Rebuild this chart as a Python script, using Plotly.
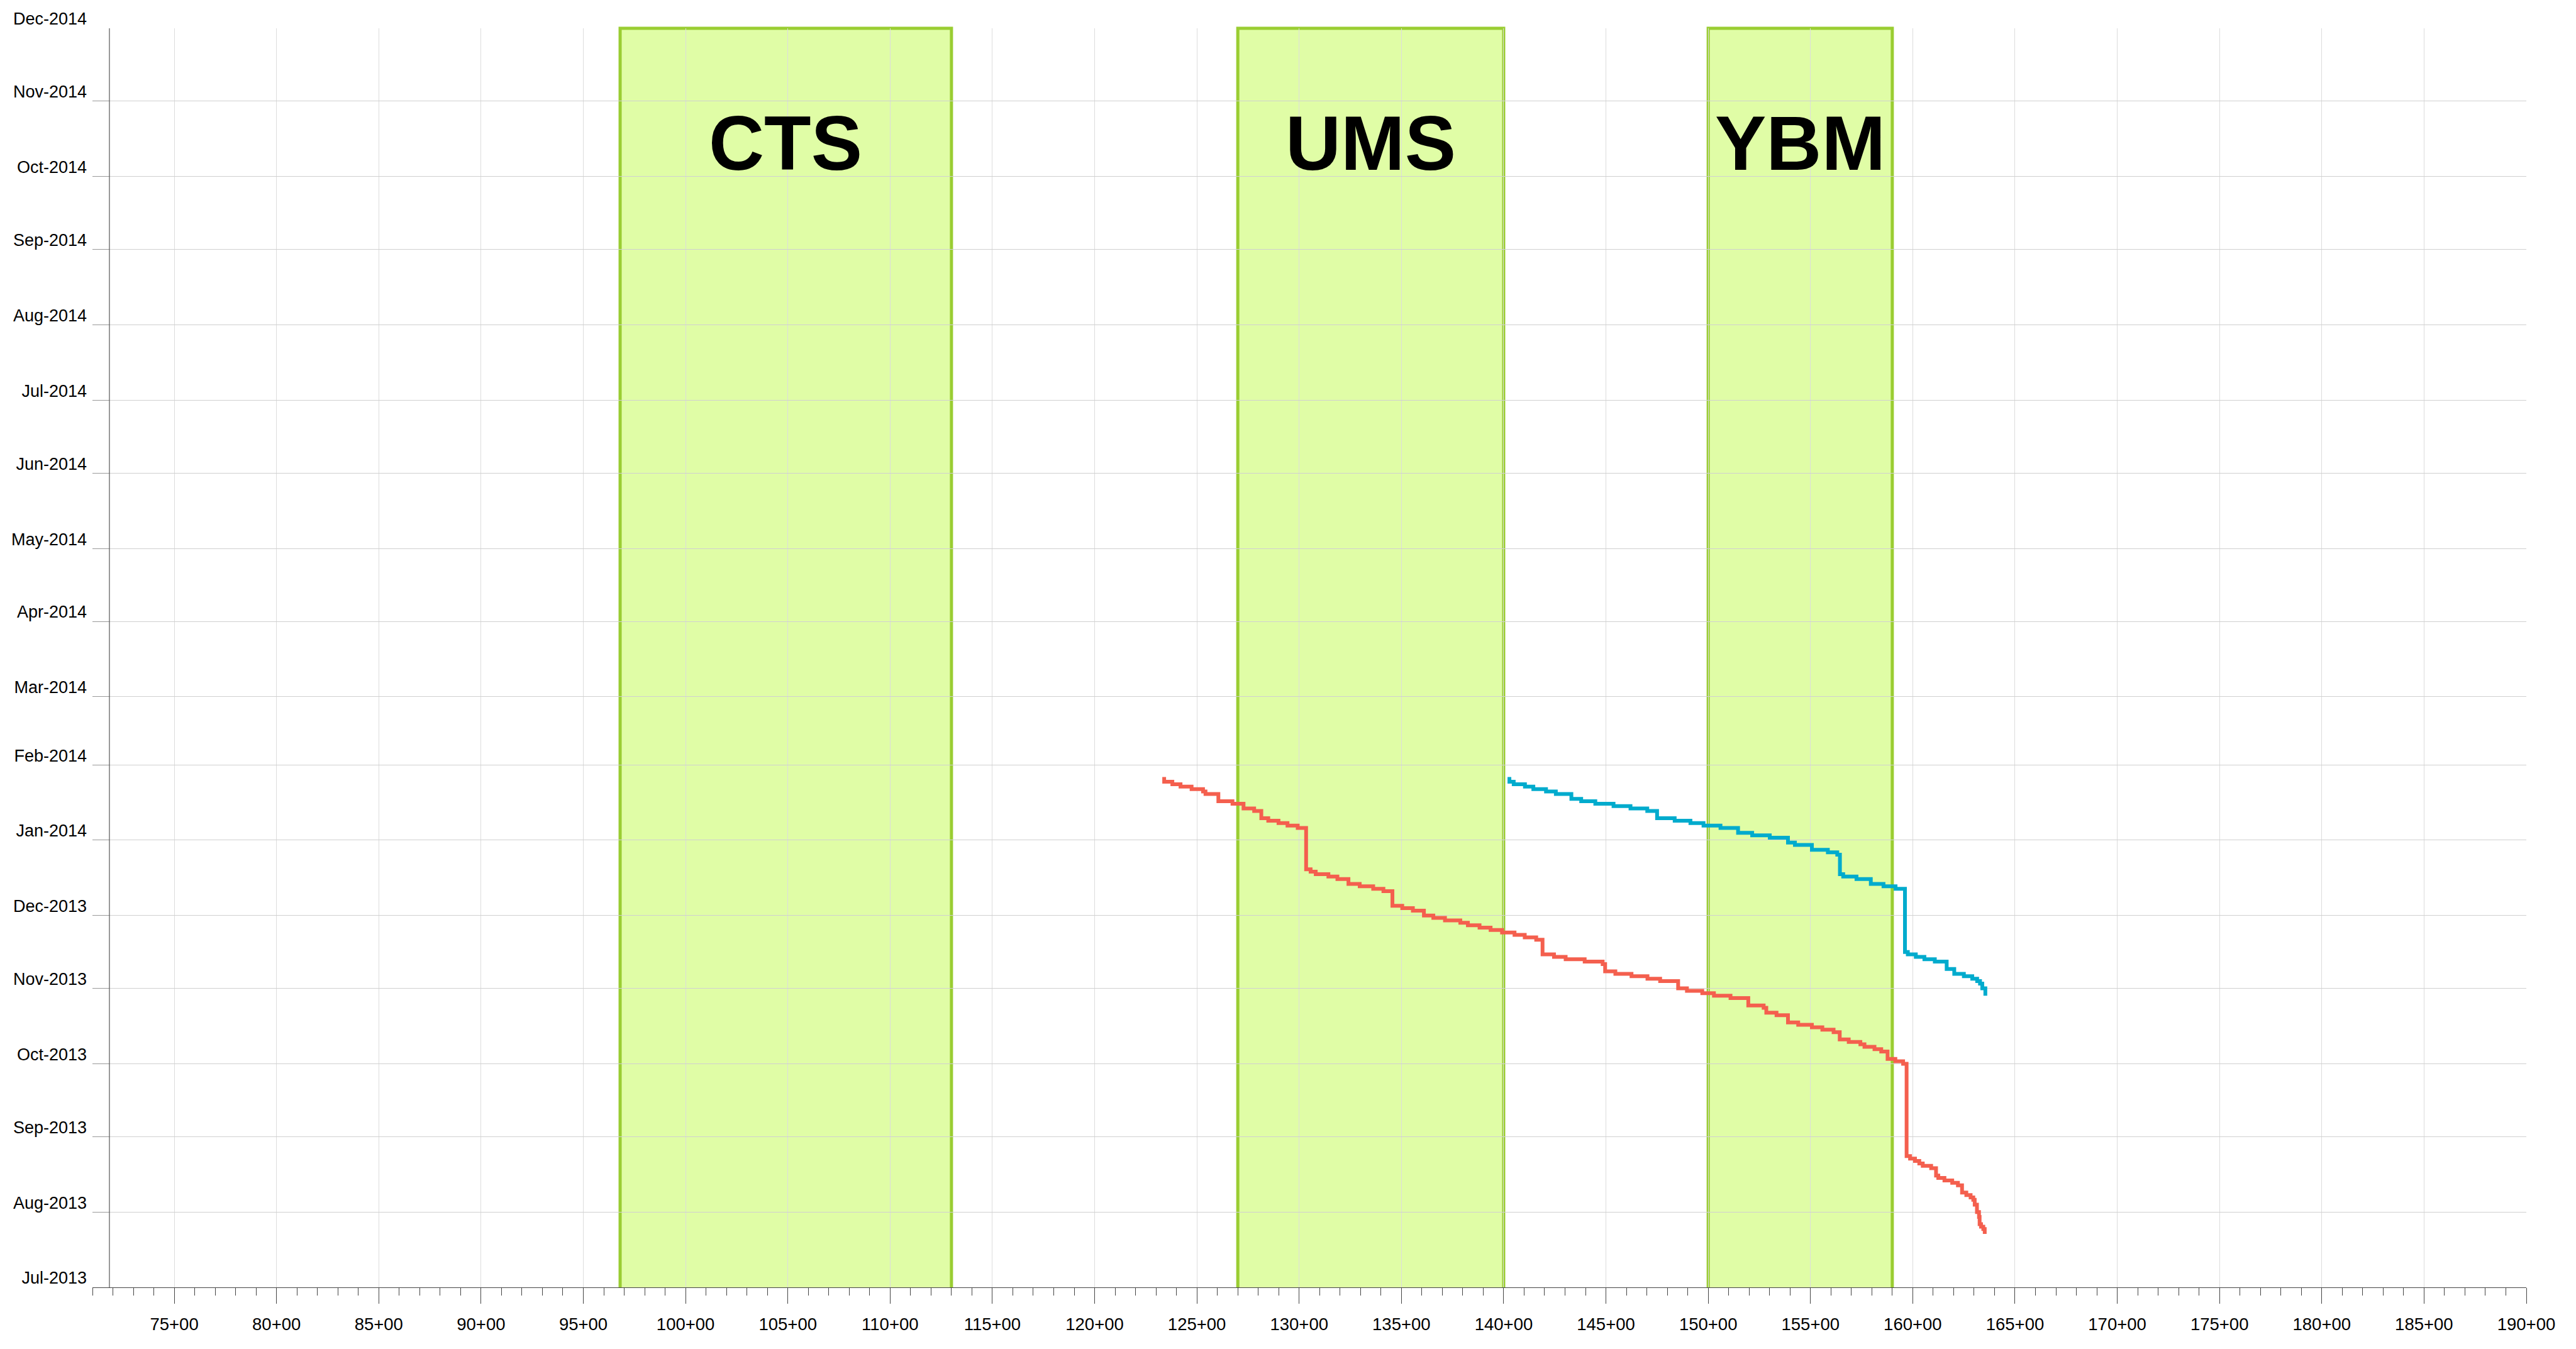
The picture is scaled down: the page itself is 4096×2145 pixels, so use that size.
import plotly.graph_objects as go

# ---- data ----
red_station = [123.40, 123.40, 123.80, 124.20, 124.74, 125.30, 125.42, 126.05, 126.74, 127.28,
               127.80, 128.15, 128.49, 128.99, 129.43, 129.93, 130.34, 130.56, 130.81, 131.43,
               131.87, 132.41, 132.96, 133.62, 134.12, 134.56, 135.04, 135.56, 136.10, 136.56,
               137.13, 137.88, 138.25, 138.82, 139.36, 139.92, 140.53, 141.03, 141.59, 141.90,
               142.46, 143.03, 143.96, 144.84, 144.96, 145.46, 146.25, 147.03, 147.65, 148.53,
               148.96, 149.71, 150.28, 151.09, 151.96, 152.71, 152.84, 153.34, 153.90, 154.40,
               155.07, 155.58, 156.13, 156.43, 156.87, 157.44, 157.64, 158.13, 158.46, 158.77,
               159.15, 159.53, 159.70, 159.87, 160.11, 160.32, 160.49, 160.90, 161.14, 161.25,
               161.55, 161.93, 162.21, 162.41, 162.62, 162.83, 162.96, 163.03, 163.14, 163.24,
               163.27, 163.34, 163.45, 163.52]
red_date = ["2014-01-27", "2014-01-25", "2014-01-24", "2014-01-23", "2014-01-22", "2014-01-21",
            "2014-01-20", "2014-01-17", "2014-01-16", "2014-01-14", "2014-01-13", "2014-01-10",
            "2014-01-09", "2014-01-08", "2014-01-07", "2014-01-06", "2013-12-20", "2013-12-19",
            "2013-12-18", "2013-12-17", "2013-12-16", "2013-12-14", "2013-12-13", "2013-12-12",
            "2013-12-11", "2013-12-05", "2013-12-04", "2013-12-03", "2013-12-01", "2013-11-30",
            "2013-11-29", "2013-11-28", "2013-11-27", "2013-11-26", "2013-11-25", "2013-11-24",
            "2013-11-23", "2013-11-22", "2013-11-21", "2013-11-15", "2013-11-14", "2013-11-13",
            "2013-11-12", "2013-11-11", "2013-11-08", "2013-11-07", "2013-11-06", "2013-11-05",
            "2013-11-04", "2013-11-01", "2013-10-31", "2013-10-30", "2013-10-29", "2013-10-28",
            "2013-10-25", "2013-10-24", "2013-10-22", "2013-10-21", "2013-10-18", "2013-10-17",
            "2013-10-16", "2013-10-15", "2013-10-14", "2013-10-11", "2013-10-10", "2013-10-09",
            "2013-10-08", "2013-10-07", "2013-10-06", "2013-10-03", "2013-10-02", "2013-10-01",
            "2013-08-24", "2013-08-23", "2013-08-22", "2013-08-21", "2013-08-20", "2013-08-19",
            "2013-08-16", "2013-08-15", "2013-08-14", "2013-08-13", "2013-08-12", "2013-08-09",
            "2013-08-08", "2013-08-07", "2013-08-06", "2013-08-04", "2013-08-01", "2013-07-30",
            "2013-07-27", "2013-07-26", "2013-07-25", "2013-07-23"]

blue_station = [140.28, 140.28, 140.49, 141.04, 141.45, 142.07, 142.55, 143.31, 143.79, 144.48,
                145.37, 146.20, 147.02, 147.50, 148.36, 149.13, 149.77, 150.60, 151.46, 152.15,
                153.01, 153.90, 154.24, 155.07, 155.85, 156.31, 156.44, 156.60, 157.25, 157.95,
                158.57, 159.16, 159.62, 159.76, 160.15, 160.57, 161.08, 161.66, 162.03, 162.50,
                162.91, 163.15, 163.29, 163.40, 163.55]
blue_date = ["2014-01-27", "2014-01-25", "2014-01-24", "2014-01-23", "2014-01-22", "2014-01-21",
             "2014-01-20", "2014-01-18", "2014-01-17", "2014-01-16", "2014-01-15", "2014-01-14",
             "2014-01-13", "2014-01-10", "2014-01-09", "2014-01-08", "2014-01-07", "2014-01-06",
             "2014-01-04", "2014-01-03", "2014-01-02", "2013-12-31", "2013-12-30", "2013-12-28",
             "2013-12-27", "2013-12-26", "2013-12-18", "2013-12-17", "2013-12-16", "2013-12-14",
             "2013-12-13", "2013-12-12", "2013-11-16", "2013-11-15", "2013-11-14", "2013-11-13",
             "2013-11-12", "2013-11-09", "2013-11-07", "2013-11-06", "2013-11-05", "2013-11-04",
             "2013-11-03", "2013-11-01", "2013-10-29"]

zone_names = ["CTS", "UMS", "YBM"]
zone_start = [96.8, 127.0, 150.0]
zone_end = [113.0, 140.0, 159.0]

x_tick_vals = [75, 80, 85, 90, 95, 100, 105, 110, 115, 120, 125, 130, 135, 140, 145, 150,
               155, 160, 165, 170, 175, 180, 185, 190]
x_tick_text = ["75+00", "80+00", "85+00", "90+00", "95+00", "100+00", "105+00", "110+00",
               "115+00", "120+00", "125+00", "130+00", "135+00", "140+00", "145+00", "150+00",
               "155+00", "160+00", "165+00", "170+00", "175+00", "180+00", "185+00", "190+00"]

x_range = [71, 190]
y_range = ["2013-07-01", "2014-12-01"]
y_axis_station = 71.83

# ---- styles ----
RED = "#f45f4e"
BLUE = "#00abcd"
FILL = "#e0fda6"
BORDER = "#9acd32"
FONT = "Liberation Sans, Arial, sans-serif"

fig = go.Figure()

fig.add_trace(go.Scatter(x=red_station, y=red_date, mode="lines",
                         line=dict(color=RED, width=6, shape="hv"),
                         showlegend=False, hoverinfo="skip"))
fig.add_trace(go.Scatter(x=blue_station, y=blue_date, mode="lines",
                         line=dict(color=BLUE, width=6, shape="hv"),
                         showlegend=False, hoverinfo="skip"))

for name, s, e in zip(zone_names, zone_start, zone_end):
    fig.add_shape(type="rect", xref="x", yref="paper", x0=s, x1=e, y0=0, y1=1,
                  fillcolor=FILL, line_width=0, layer="below")
    fig.add_shape(type="path", xref="x", yref="paper",
                  path=f"M {s},0 L {s},1 L {e},1 L {e},0",
                  line=dict(color=BORDER, width=5), layer="below")
    fig.add_annotation(x=(s + e) / 2, y=0.9085, xref="x", yref="paper",
                       text=f"<b>{name}</b>", showarrow=False,
                       xanchor="center", yanchor="middle",
                       font=dict(family=FONT, size=122, color="#000000"))

# y-axis line (offset from the left of the grid)
fig.add_shape(type="line", xref="x", yref="paper", x0=y_axis_station, x1=y_axis_station,
              y0=0, y1=1, line=dict(color="#555555", width=1.2), layer="above")

fig.update_layout(
    width=4096, height=2145,
    margin=dict(l=147, r=79, t=45, b=98, pad=0, autoexpand=False),
    paper_bgcolor="white", plot_bgcolor="white",
    font=dict(family=FONT, size=27, color="#000000"),
    showlegend=False,
)

fig.update_xaxes(
    range=x_range, autorange=False, automargin=False,
    tickmode="array", tickvals=x_tick_vals, ticktext=x_tick_text,
    ticks="outside", ticklen=25, tickwidth=1, tickcolor="#444444",
    showline=True, linecolor="#444444", linewidth=1.2,
    showgrid=True, gridcolor="#dcdcdc", gridwidth=1,
    zeroline=False,
    tickfont=dict(family=FONT, size=27.5, color="#000000"),
    ticklabelstandoff=9,
    minor=dict(tickmode="linear", tick0=71, dtick=1, ticks="outside", ticklen=12,
               tickwidth=1, tickcolor="#444444", showgrid=False),
)

fig.update_yaxes(
    type="date", range=y_range, autorange=False, automargin=False,
    dtick="M1", tick0="2013-07-01", tickformat="%b-%Y",
    ticks="inside", ticklen=27, tickwidth=1.2, tickcolor="#999999",
    showline=False,
    showgrid=True, gridcolor="#d0d0d0", gridwidth=1,
    zeroline=False,
    tickfont=dict(family=FONT, size=27, color="#000000"),
    ticklabelshift=-15, ticklabelstandoff=8,
)

fig.write_html("out.html", config={"displayModeBar": False},
               post_script="document.body.style.margin='0';document.body.style.overflow='hidden';")
